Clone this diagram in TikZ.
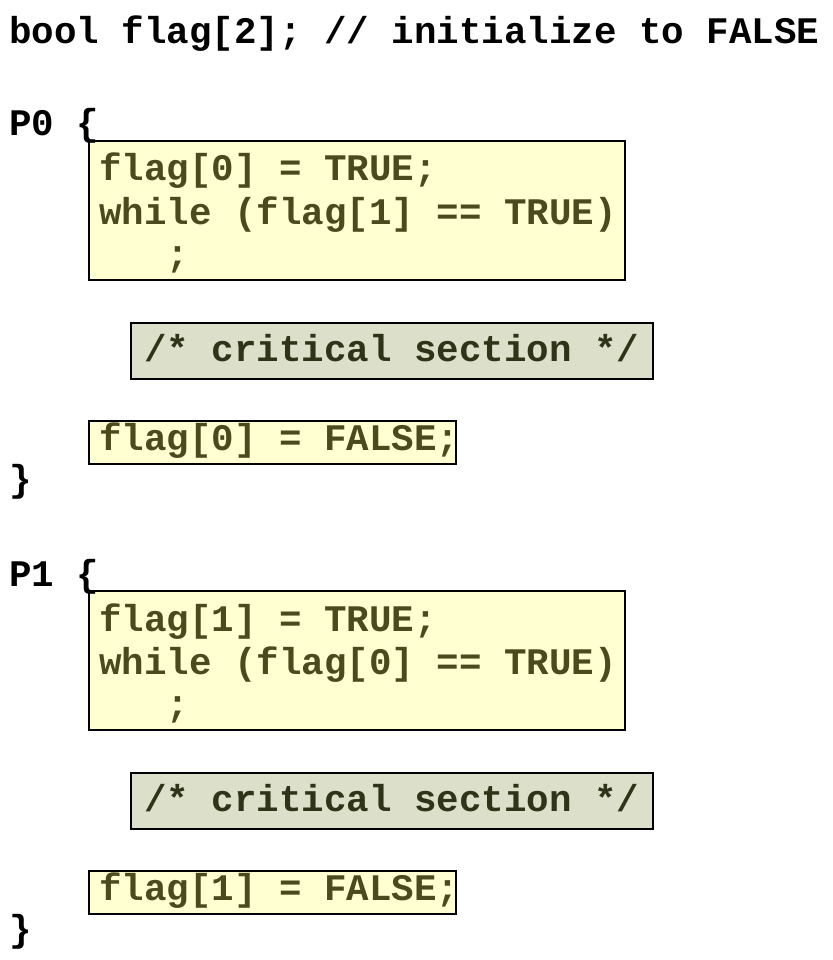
\documentclass[tikz,border=0pt]{standalone}
\usepackage{fontspec}
\setmainfont{Liberation Mono}
\definecolor{yfill}{HTML}{FFFFD2}
\definecolor{gfill}{HTML}{DCDFCA}
\definecolor{ytext}{HTML}{4A4A1E}
\definecolor{gtext}{HTML}{2F3317}
\begin{document}
\begin{tikzpicture}[x=1pt,y=-1pt,
  code/.style={anchor=base west, inner sep=0pt, font=\fontsize{37.5}{43}\selectfont\bfseries},
  plaintxt/.style={code, text=black},
  ytxt/.style={code, text=ytext},
  gtxt/.style={code, text=gtext},
  ybox/.style={draw=black, line width=2pt, fill=yfill, inner sep=0pt, anchor=north west},
  gbox/.style={draw=black, line width=2pt, fill=gfill, inner sep=0pt, anchor=north west}]
\useasboundingbox (0,0) rectangle (832,960);
\node[plaintxt] (decl) at (9,43.5) {bool flag[2]; // initialize to FALSE};
\foreach \i/\j/\dy in {0/1/0, 1/0/450} {
  % boxes
  \node[ybox, minimum width=536pt, minimum height=139pt] (entry\i) at (88,140+\dy) {};
  \node[gbox, minimum width=522pt, minimum height=56pt] (crit\i) at (130,322+\dy) {};
  \node[ybox, minimum width=367pt, minimum height=43pt] (exit\i) at (88,420+\dy) {};
  % texts
  \node[plaintxt] (head\i) at (9,136+\dy) {P\i\ \{};
  \node[ytxt] (set\i) at (99,181+\dy) {flag[\i] = TRUE;};
  \node[ytxt] (wait\i) at (99,224+\dy) {while (flag[\j] == TRUE)};
  \node[ytxt] (semi\i) at (166.5,266+\dy) {;};
  \node[gtxt] (cs\i) at (144,361+\dy) {/* critical section */};
  \node[ytxt] (reset\i) at (99,450+\dy) {flag[\i] = FALSE;};
  \node[plaintxt] (close\i) at (9,491+\dy) {\}};
}
\end{tikzpicture}
\end{document}
